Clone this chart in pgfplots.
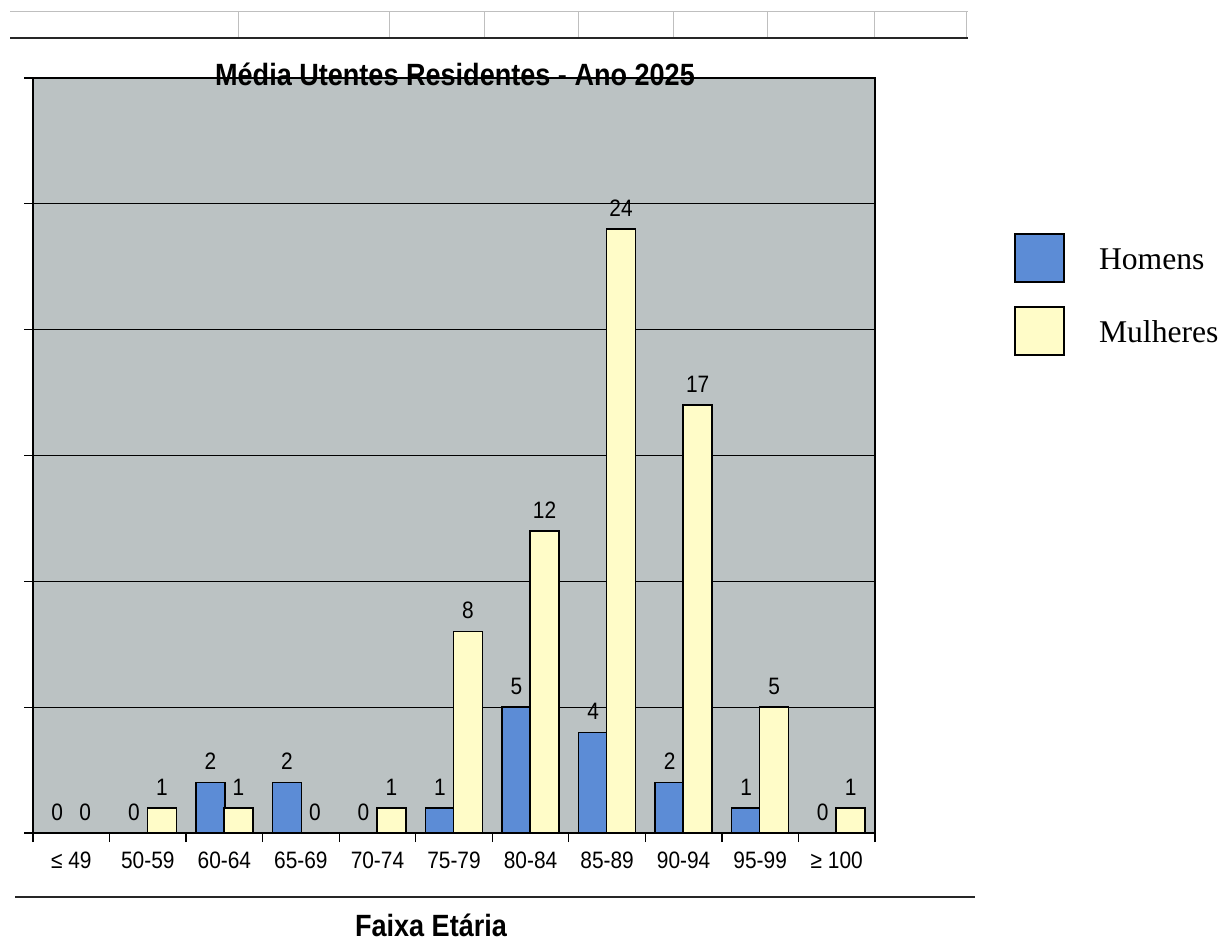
\documentclass[border=0pt]{standalone}
\usepackage{fontspec}
\setmainfont{Liberation Sans}[FakeStretch=0.88]
\newfontfamily\legendfont{Liberation Serif}
\usepackage{pgfplots}
\pgfplotsset{compat=1.18}
\definecolor{plotgray}{RGB}{187,194,195}
\definecolor{barblue}{RGB}{92,140,214}
\definecolor{baryellow}{RGB}{255,252,200}
\newcommand\lbl{\fontsize{13.5}{15}\selectfont}
\newcommand\ttl{\fontsize{17.5}{20}\selectfont\bfseries}
\pgfplotsset{
  mylegend/.style={legend image code/.code={
    \draw[##1,/tikz/.cd,line width=0.04cm,draw=black] (0cm,-0.44cm) rectangle (0.98cm,0.52cm);
    \path (1.66cm,0.2cm);}},
  mylabels/.style={nodes near coords,
    every node near coord/.append style={font=\lbl, inner sep=0pt, yshift=0.24cm, xshift=#1, black}},
}
\begin{document}
\begin{tikzpicture}
\useasboundingbox (0,0) rectangle (24.4,18.84);
% spreadsheet decorations
\draw[gray!50, line width=0.02cm] (0.2,18.60) -- (19.36,18.60);
\foreach \x in {4.76,7.78,9.68,11.56,13.46,15.34,17.48,19.32}
  \draw[gray!50, line width=0.02cm] (\x,18.60) -- (\x,18.08);
\draw[black!85, line width=0.045cm] (0.2,18.08) -- (19.36,18.08);
\draw[black!85, line width=0.045cm] (0.3,0.90) -- (19.5,0.90);

\begin{axis}[
  at={(0.66cm,2.18cm)}, anchor=south west,
  scale only axis, width=16.84cm, height=15.10cm,
  xmin=-0.5, xmax=10.5, ymin=0, ymax=30,
  xtick={-0.5,0.5,1.5,2.5,3.5,4.5,5.5,6.5,7.5,8.5,9.5,10.5},
  x tick label as interval,
  xticklabels={≤ 49,50-59,60-64,65-69,70-74,75-79,80-84,85-89,90-94,95-99,≥ 100},
  ytick={0,5,...,30},
  yticklabels={},
  tick pos=left,
  tick align=outside,
  major tick length=0.18cm,
  tick style={black, line width=0.025cm},
  xticklabel style={font=\lbl, inner sep=0pt, yshift=-0.2cm},
  /pgf/number format/assume math mode=true,
  axis line style={black, line width=0.03cm},
  ymajorgrids,
  major grid style={black, line width=0.025cm},
  axis background/.style={fill=plotgray},
  legend style={at={(axis description cs:1.165,0.795)}, anchor=north west,
    draw=none, fill=none, inner sep=0pt, row sep=0.46cm,
    font=\legendfont\fontsize{18}{20}\selectfont,
    nodes={inner sep=0pt}},
  legend cell align=left,
]
\addplot[ybar, bar width=0.58cm, bar shift=-0.28cm, fill=barblue, draw=black,
  line width=0.03cm, mylegend, mylabels=-0.28cm]
  coordinates {(0,0) (1,0) (2,2) (3,2) (4,0) (5,1) (6,5) (7,4) (8,2) (9,1) (10,0)};
\addlegendentry{Homens}
\addplot[ybar, bar width=0.58cm, bar shift=0.28cm, fill=baryellow, draw=black,
  line width=0.03cm, mylegend, mylabels=0.28cm]
  coordinates {(0,0) (1,1) (2,1) (3,0) (4,1) (5,8) (6,12) (7,24) (8,17) (9,5) (10,1)};
\addlegendentry{Mulheres}
\end{axis}

\node[anchor=base, font=\ttl, inner sep=0pt] at (9.1,17.12) {Média Utentes Residentes - Ano 2025};
\node[anchor=base, font=\ttl, inner sep=0pt] at (8.62,0.12) {Faixa Etária};
\end{tikzpicture}
\end{document}
